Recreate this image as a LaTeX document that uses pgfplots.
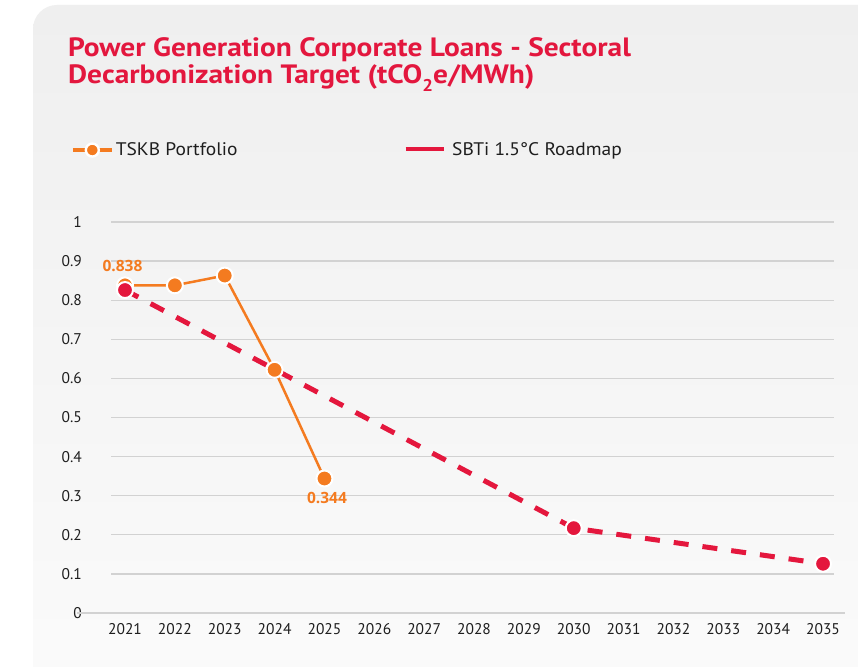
\documentclass[border=0pt]{standalone}
\usepackage{pgfplots}
\pgfplotsset{compat=1.18}
\usepackage{fontspec}
\setmainfont{PT Sans}
\newfontfamily\titlefont[FakeStretch=1.11]{PT Sans}
\newfontfamily\legendfont[FakeStretch=1.07]{PT Sans}
\newfontfamily\labelfont{Open Sans}
\definecolor{titlered}{HTML}{E3173E}
\definecolor{tskb}{HTML}{F47B20}
\definecolor{sbti}{HTML}{E4173D}
\definecolor{gridgray}{HTML}{D2D2D2}
\definecolor{panelTop}{HTML}{EFEFEF}
\definecolor{panelBot}{HTML}{FBFBFB}
\definecolor{ticktext}{HTML}{1E1E1E}
\begin{document}
\begin{tikzpicture}[x=1pt,y=1pt]
\useasboundingbox (0,0) rectangle (858,666);
\fill[white] (0,0) rectangle (858,666);
\shade[top color=panelTop, bottom color=panelBot, rounded corners=24pt] (33,-40) rectangle (900,661);
\node[anchor=base west, inner sep=0pt, text=titlered] at (68,609)
  {\titlefont\bfseries\fontsize{26.5}{30}\selectfont Power Generation Corporate Loans - Sectoral};
\node[anchor=base west, inner sep=0pt, text=titlered] at (68,582)
  {\titlefont\bfseries\fontsize{26.5}{30}\selectfont Decarbonization Target (tCO\raisebox{-0.28em}{\fontsize{17}{17}\selectfont 2}e/MWh)};
\begin{axis}[
  at={(111pt,53pt)}, anchor=south west,
  scale only axis, width=723pt, height=391pt,
  xmin=2020.719, xmax=2035.22, ymin=0, ymax=1,
  xtick={2021,2022,2023,2024,2025,2026,2027,2028,2029,2030,2031,2032,2033,2034,2035},
  ytick={0,0.1,0.2,0.3,0.4,0.5,0.6,0.7,0.8,0.9,1},
  yticklabels={0,0.1,0.2,0.3,0.4,0.5,0.6,0.7,0.8,0.9,1},
  /pgf/number format/1000 sep={},
  /pgf/number format/assume math mode=true,
  axis line style={draw=none},
  major tick length=0pt,
  ymajorgrids, grid style={color=gridgray, line width=1.3pt},
  tick label style={font=\fontsize{15.5}{18}\selectfont, text=ticktext},
  yticklabel style={anchor=east, inner sep=0pt, xshift=-29pt},
  xticklabel style={anchor=north, inner sep=0pt, yshift=-10pt},
  clip=false,
  legend columns=2,
  legend style={at={(-0.06,1.184)}, anchor=west, draw=none, fill=none,
    font=\legendfont\fontsize{18.2}{21}\selectfont, text=ticktext,
    /tikz/every even column/.append style={column sep=164pt}},
  legend cell align=left,
]
\draw[gridgray, line width=1.3pt] (axis cs:2020.04,0) -- (axis cs:2035.44,0);
\addlegendimage{legend image code/.code={
  \draw[tskb, line width=4pt] (0pt,0pt) -- (39pt,0pt);
  \draw[fill=tskb, draw=white, line width=2.4pt] (19.5pt,0pt) circle (6.5pt);}}
\addlegendentry{TSKB Portfolio}
\addlegendimage{legend image code/.code={
  \draw[sbti, line width=4pt] (0pt,1pt) -- (38.6pt,1pt);}}
\addlegendentry{\hspace{4pt}SBTi 1.5°C Roadmap}
% SBTi line (behind)
\addplot[forget plot, sbti, line width=5pt, dash pattern=on 15pt off 14pt, mark=none]
  coordinates {(2021,0.826) (2030,0.217) (2035,0.126)};
% TSKB portfolio
\addplot[forget plot, tskb, line width=2.5pt, mark=*, mark size=8pt,
  mark options={fill=tskb, draw=white, line width=2pt}]
  coordinates {(2021,0.838) (2022,0.838) (2023,0.863) (2024,0.622) (2025,0.344)};
% SBTi markers
\addplot[forget plot, only marks, mark=*, mark size=8pt,
  mark options={fill=sbti, draw=white, line width=2pt}]
  coordinates {(2021,0.826) (2030,0.217) (2035,0.126)};
\node[text=tskb, anchor=south, inner sep=0pt] at (axis cs:2020.95,0.873)
  {\labelfont\bfseries\fontsize{15.5}{18}\selectfont 0.838};
\node[text=tskb, anchor=north, inner sep=0pt] at (axis cs:2025.05,0.31)
  {\labelfont\bfseries\fontsize{15.5}{18}\selectfont 0.344};
\end{axis}
\end{tikzpicture}
\end{document}
